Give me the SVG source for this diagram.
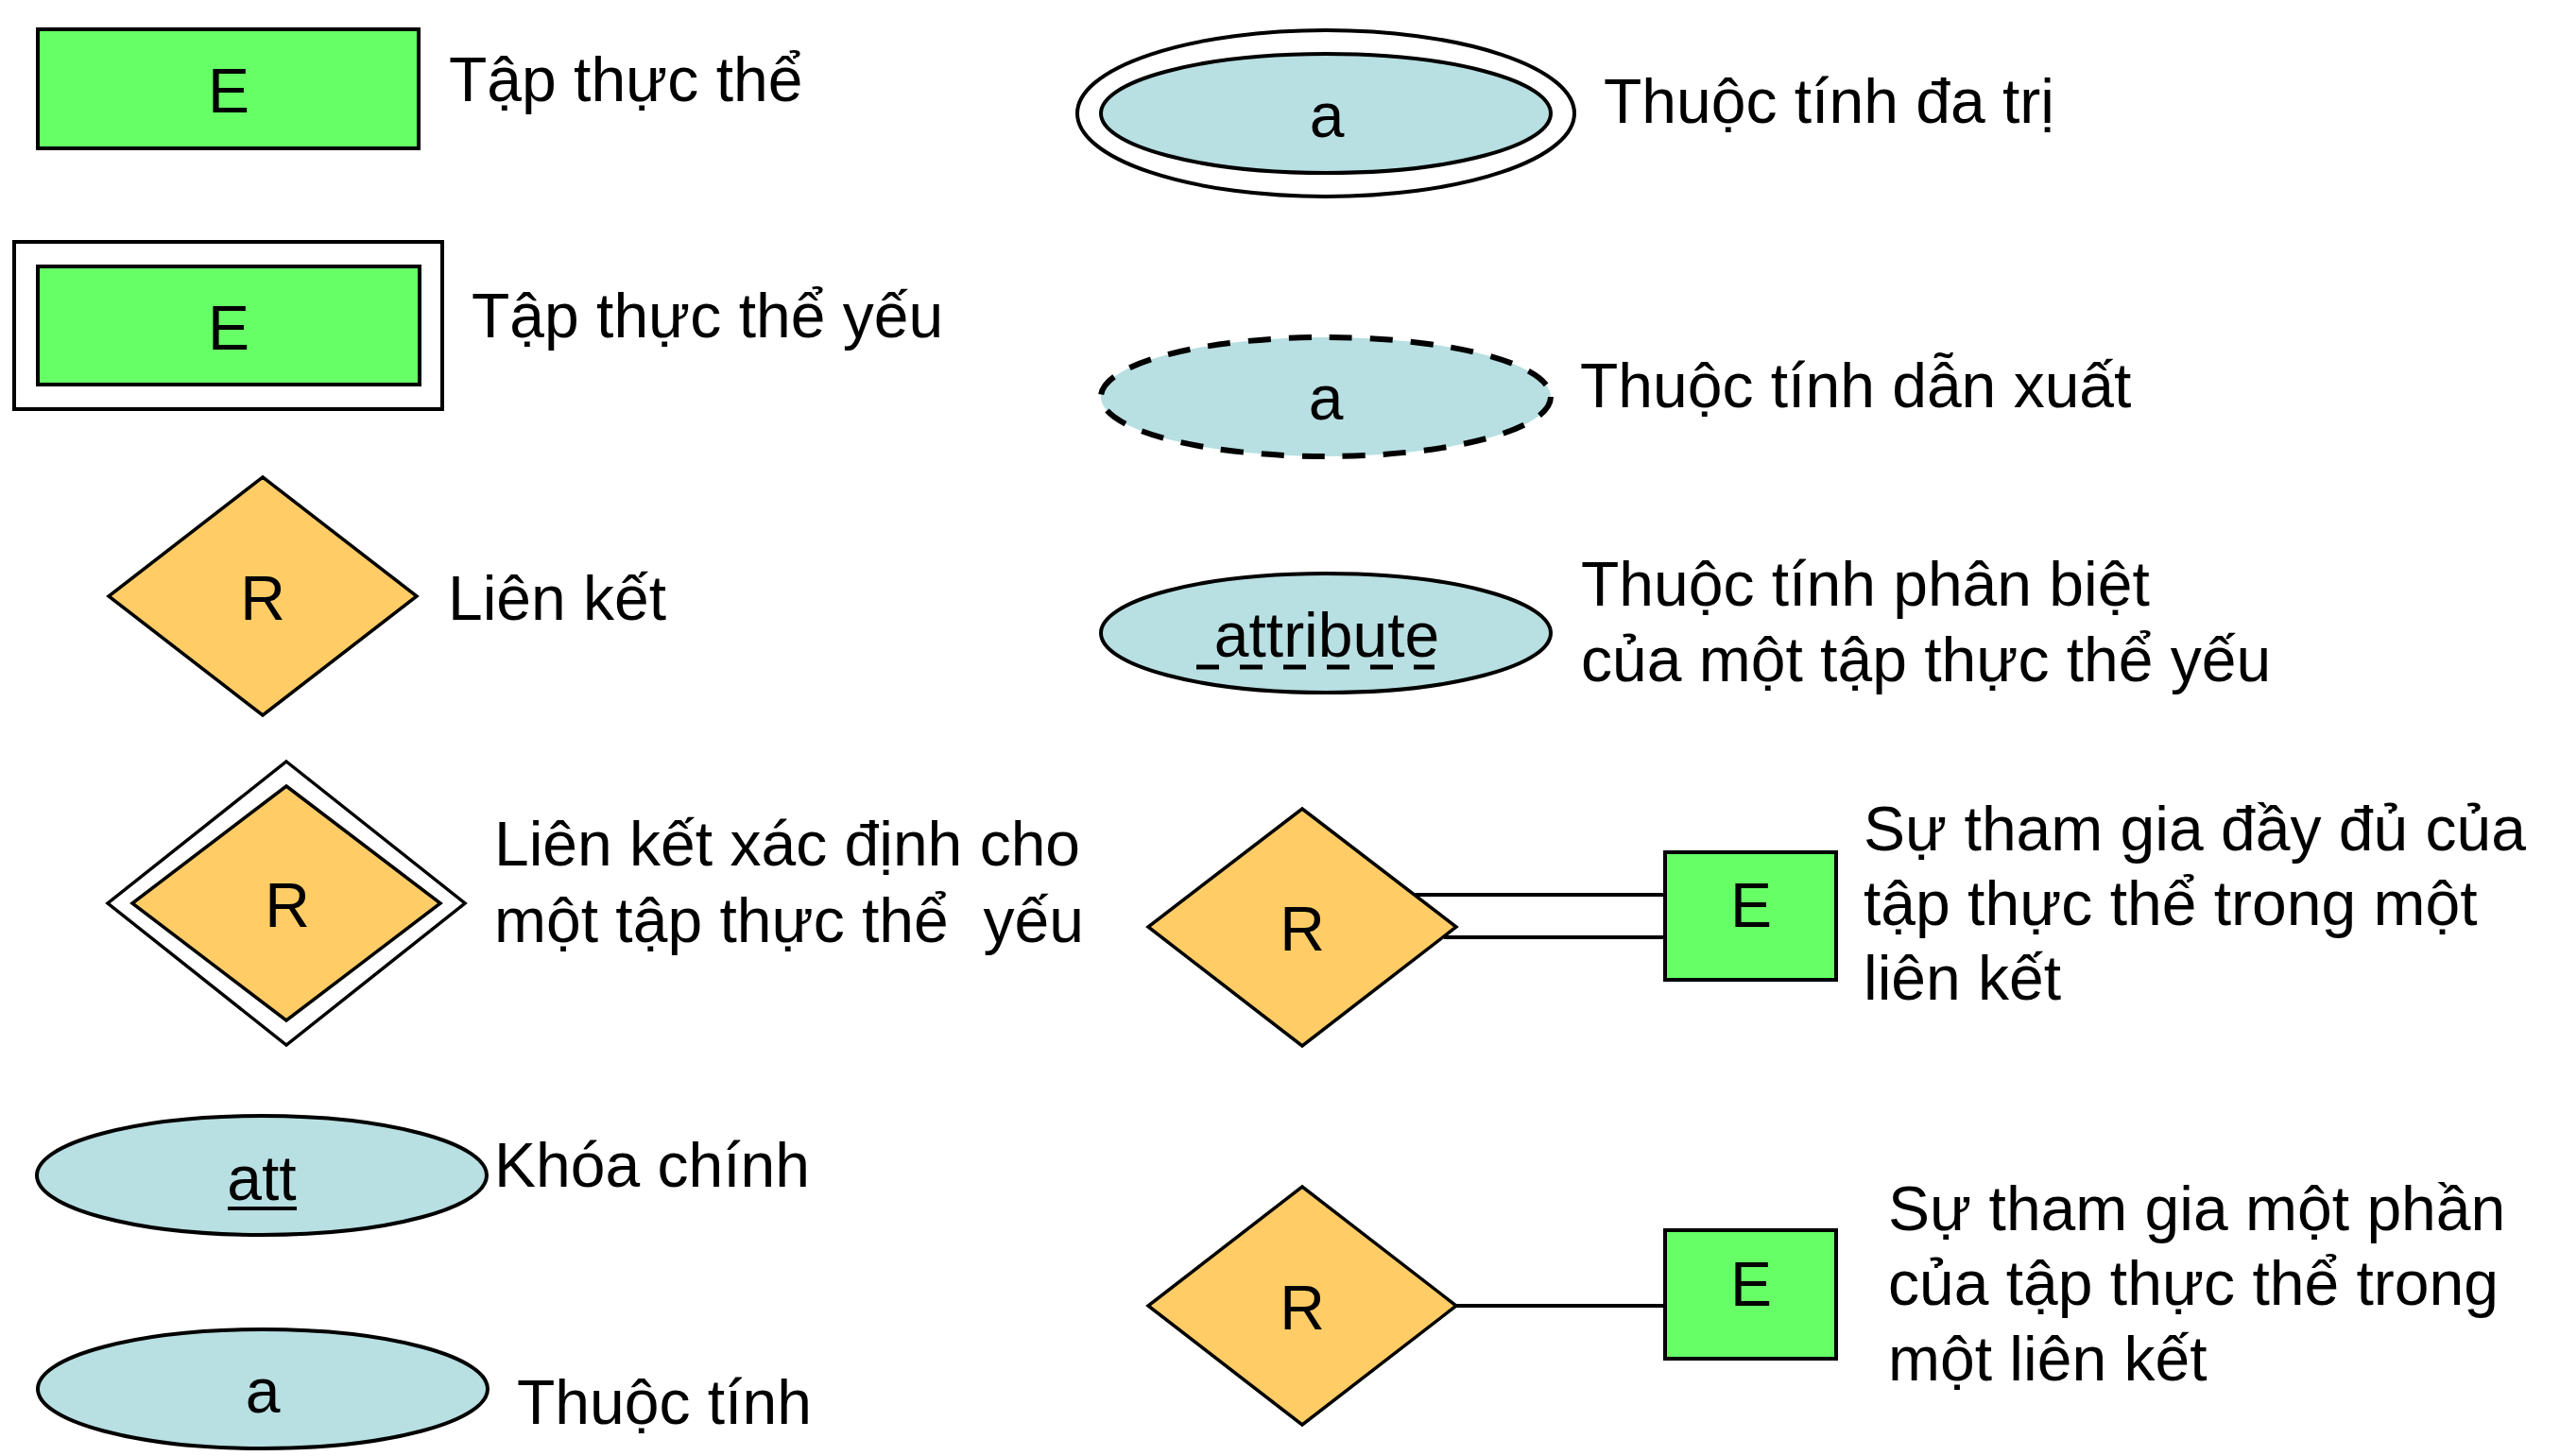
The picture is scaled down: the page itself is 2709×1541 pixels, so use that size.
<svg xmlns="http://www.w3.org/2000/svg" width="2709" height="1541" viewBox="0 0 2709 1541">
<style>
text { font-family: "Liberation Sans", Arial, sans-serif; font-size: 66px; fill: #000; }
.c { text-anchor: middle; }
.ent { fill: #66FF66; stroke: #000; stroke-width: 4; }
.box { fill: #FFFFFF; stroke: #000; stroke-width: 4; }
.rel { fill: #FFCC66; stroke: #000; stroke-width: 3.5; stroke-linejoin: miter; }
.relw { fill: #FFFFFF; stroke: #000; stroke-width: 3.5; }
.att { fill: #B8DFE2; stroke: #000; stroke-width: 4; }
.attw { fill: #FFFFFF; stroke: #000; stroke-width: 4; }
.der { fill: #B8DFE2; stroke: #000; stroke-width: 6; stroke-dasharray: 24 19; }
.link { stroke: #000; stroke-width: 4; fill: none; }
.pre { white-space: pre; }
</style>
<rect width="2709" height="1541" fill="#FFFFFF"/>

<g id="entity">
  <rect class="ent" x="40" y="31" width="403" height="126"/>
  <text class="c" x="242" y="119">E</text>
</g>
<text x="475" y="107">Tập thực thể</text>

<g id="weak-entity">
  <rect class="box" x="15" y="256" width="453" height="177"/>
  <rect class="ent" x="40" y="282" width="404" height="125"/>
  <text class="c" x="242" y="370">E</text>
</g>
<text x="499" y="357">Tập thực thể yếu</text>

<g id="relationship">
  <polygon class="rel" points="278,505 441,631 278,757 115,631"/>
  <text class="c" x="278" y="656">R</text>
</g>
<text x="474" y="656">Liên kết</text>

<g id="identifying-relationship">
  <polygon class="relw" points="303,806 492,956 303,1106 114,956"/>
  <polygon class="rel" points="303,832 466,956 303,1080 140,956"/>
  <text class="c" x="304" y="981">R</text>
</g>
<text x="523" y="916">Liên kết xác định cho</text>
<text class="pre" x="523" y="997">một tập thực thể  yếu</text>

<g id="key-attribute">
  <ellipse class="att" cx="277" cy="1244" rx="238" ry="63"/>
  <text class="c" x="277" y="1270">att</text>
  <line x1="241" y1="1279" x2="314" y2="1279" stroke="#000" stroke-width="4"/>
</g>
<text x="523" y="1256">Khóa chính</text>

<g id="attribute">
  <ellipse class="att" cx="278" cy="1470" rx="238" ry="63"/>
  <text class="c" x="278" y="1495">a</text>
</g>
<text x="547" y="1507">Thuộc tính</text>

<g id="multivalued-attribute">
  <ellipse class="attw" cx="1403" cy="120" rx="263" ry="88"/>
  <ellipse class="att" cx="1403" cy="120" rx="238" ry="63"/>
  <text class="c" x="1404" y="145">a</text>
</g>
<text x="1697" y="130">Thuộc tính đa trị</text>

<g id="derived-attribute">
  <ellipse class="der" cx="1403" cy="420" rx="238" ry="63"/>
  <text class="c" x="1403" y="444">a</text>
</g>
<text x="1672" y="431">Thuộc tính dẫn xuất</text>

<g id="partial-key-attribute">
  <ellipse class="att" cx="1403" cy="670" rx="238" ry="63"/>
  <text class="c" x="1404" y="695">attribute</text>
  <line x1="1266" y1="706" x2="1518" y2="706" stroke="#000" stroke-width="5" stroke-dasharray="24 22"/>
</g>
<text x="1673" y="641">Thuộc tính phân biệt</text>
<text x="1673" y="721">của một tập thực thể yếu</text>

<g id="connectors">
  <line class="link" x1="1497" y1="947" x2="1762" y2="947"/>
  <line class="link" x1="1528" y1="992" x2="1762" y2="992"/>
  <line class="link" x1="1541" y1="1382" x2="1762" y2="1382"/>
</g>

<g id="total-rel">
  <polygon class="rel" points="1378,856 1541,981 1378,1107 1215,981"/>
  <text class="c" x="1378" y="1006">R</text>
</g>
<g id="total-entity">
  <rect class="ent" x="1762" y="902" width="181" height="135"/>
  <text class="c" x="1853" y="981">E</text>
</g>
<text x="1972" y="900">Sự tham gia đầy đủ của</text>
<text x="1972" y="979">tập thực thể trong một</text>
<text x="1972" y="1058">liên kết</text>

<g id="partial-rel">
  <polygon class="rel" points="1378,1256 1541,1382 1378,1508 1215,1382"/>
  <text class="c" x="1378" y="1407">R</text>
</g>
<g id="partial-entity">
  <rect class="ent" x="1762" y="1302" width="181" height="136"/>
  <text class="c" x="1853" y="1382">E</text>
</g>
<text x="1998" y="1302">Sự tham gia một phần</text>
<text x="1998" y="1381">của tập thực thể trong</text>
<text x="1998" y="1461">một liên kết</text>
</svg>
